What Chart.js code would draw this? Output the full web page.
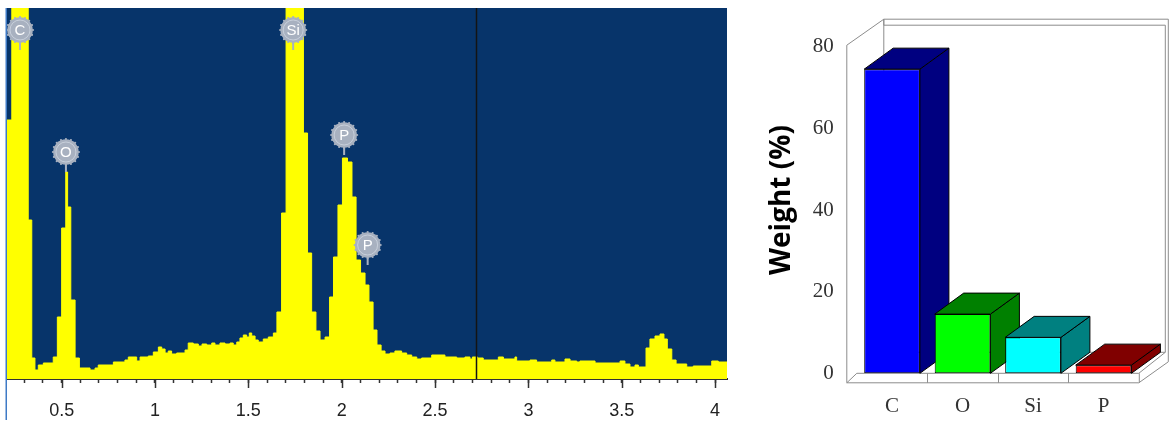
<!DOCTYPE html>
<html>
<head>
<meta charset="utf-8">
<title>EDS spectrum and elemental composition</title>
<script src="https://cdn.jsdelivr.net/npm/chart.js@4.4.1/dist/chart.umd.min.js"></script>
<style>
  html, body { margin: 0; padding: 0; background: #ffffff; }
  #wrap { position: relative; width: 1176px; height: 424px; overflow: hidden; background: #ffffff; }
  #spec { position: absolute; left: 0; top: 0; }
  #comp { position: absolute; left: 740px; top: 0; }
</style>
</head>
<body>
<div id="wrap">
  <canvas id="spec" width="740" height="424"></canvas>
  <canvas id="comp" width="436" height="424"></canvas>
</div>
<script>
// ---------- EDS spectrum (channel start energy in keV, counts per channel) ----------
const energyKeV = [
  0.207, 0.233, 0.321, 0.340, 0.357, 0.375, 0.402, 0.455, 0.477, 0.500,
  0.522, 0.532, 0.549, 0.572, 0.595, 0.652, 0.679, 0.696, 0.777, 0.839,
  0.857, 0.902, 0.920, 0.964, 0.991, 1.018, 1.036, 1.054, 1.071, 1.089,
  1.116, 1.161, 1.178, 1.205, 1.232, 1.252, 1.277, 1.304, 1.321, 1.348,
  1.375, 1.402, 1.419, 1.438, 1.455, 1.473, 1.491, 1.505, 1.518, 1.536,
  1.553, 1.580, 1.607, 1.634, 1.653, 1.678, 1.702, 1.795, 1.817, 1.839,
  1.862, 1.884, 1.911, 1.935, 1.956, 1.980, 2.004, 2.031, 2.055, 2.077,
  2.101, 2.125, 2.146, 2.168, 2.189, 2.211, 2.232, 2.259, 2.285, 2.321,
  2.348, 2.375, 2.402, 2.428, 2.482, 2.553, 2.616, 2.660, 2.687, 2.700,
  2.728, 2.758, 2.839, 2.866, 2.928, 2.937, 3.009, 3.044, 3.125, 3.142,
  3.196, 3.223, 3.259, 3.276, 3.357, 3.491, 3.517, 3.544, 3.571, 3.589,
  3.630, 3.651, 3.678, 3.705, 3.726, 3.744, 3.768, 3.791, 3.848, 3.883,
  3.982, 4.017, 4.064
];
const counts = [
  259, 480, 159, 21, 9, 14, 16, 22, 62, 151,
  207, 172, 79, 21, 11, 9, 11, 14, 17, 19,
  22, 18, 22, 23, 27, 32, 30, 26, 28, 25,
  26, 29, 36, 35, 33, 35, 34, 36, 34, 36,
  35, 36, 34, 37, 41, 44, 42, 46, 43, 39,
  37, 40, 42, 46, 67, 166, 430, 246, 126, 67,
  48, 39, 42, 82, 122, 174, 221, 217, 182, 119,
  106, 94, 77, 49, 34, 28, 25, 26, 28, 26,
  24, 22, 20, 21, 24, 22, 21, 22, 20, 22,
  21, 19, 22, 20, 22, 18, 19, 17, 19, 17,
  20, 18, 17, 18, 16, 18, 15, 12, 14, 12,
  31, 40, 43, 45, 40, 30, 19, 15, 12, 13,
  18, 17, 17
];

// Energy window shown and the axis ticks (every 0.1 keV, labelled every 0.5 keV)
const energyMin = 0.2073;
const energyMax = 4.0637;
const countsMax = 371;
const energyTicks = [
  0.3, 0.4, 0.5, 0.6, 0.7, 0.8, 0.9, 1.0, 1.1, 1.2, 1.3, 1.4, 1.5, 1.6, 1.7, 1.8, 1.9,
  2.0, 2.1, 2.2, 2.3, 2.4, 2.5, 2.6, 2.7, 2.8, 2.9, 3.0, 3.1, 3.2, 3.3, 3.4, 3.5, 3.6,
  3.7, 3.8, 3.9, 4.0
];
const energyTickLabels = { 0.5: '0.5', 1: '1', 1.5: '1.5', 2: '2', 2.5: '2.5', 3: '3', 3.5: '3.5', 4: '4' };

// Element line markers: symbol, line energy (keV), marker level (counts)
const peakSymbols = ['C', 'O', 'Si', 'P', 'P'];
const peakEnergies = [0.277, 0.523, 1.740, 2.013, 2.139];
const peakTagLevels = [349, 227, 349, 244, 134];

// Cursor position (keV)
const cursorEnergy = 2.723;

// ---------- Composition (wt %) ----------
const elements = ['C', 'O', 'Si', 'P'];
const weightPct = [74.5, 14.5, 8.8, 2.0];
const weightTicks = [0, 20, 40, 60, 80];

// ---------- styles ----------
const NAVY = '#07346a';
const YELLOW = '#ffff00';
const TAG_FILL = '#a8b1c0';
const frontColors = ['#0000ff', '#00ff00', '#00ffff', '#ff0000'];
const depthColors = ['#000080', '#008000', '#008080', '#800000'];

function isMajor(v) {
  return Math.abs(v * 2 - Math.round(v * 2)) < 1e-6;
}

// Rounded "gear" badge with the element symbol and a short pin underneath
function drawTag(ctx, x, y, text) {
  ctx.save();
  ctx.fillStyle = TAG_FILL;
  ctx.beginPath();
  ctx.arc(x, y, 12.8, 0, Math.PI * 2);
  ctx.fill();
  for (let k = 0; k < 16; k++) {
    const a = k * Math.PI / 8;
    ctx.beginPath();
    ctx.arc(x + 13 * Math.cos(a), y + 13 * Math.sin(a), 1.1, 0, Math.PI * 2);
    ctx.fill();
  }
  ctx.fillRect(x - 1, y + 12, 2, 8);
  ctx.strokeStyle = 'rgba(220,226,235,0.6)';
  ctx.lineWidth = 1;
  ctx.beginPath();
  ctx.arc(x, y, 10, 0, Math.PI * 2);
  ctx.stroke();
  ctx.fillStyle = '#ffffff';
  ctx.font = '15px "Liberation Sans", Arial, sans-serif';
  ctx.textAlign = 'center';
  ctx.textBaseline = 'middle';
  ctx.fillText(text, x, y + 1);
  ctx.restore();
}

const spectrumDecor = {
  id: 'spectrumDecor',
  beforeDraw(chart) {
    const { ctx, chartArea: a } = chart;
    ctx.save();
    ctx.fillStyle = NAVY;
    ctx.fillRect(a.left, a.top, a.right - a.left, a.bottom - a.top);
    ctx.restore();
  },
  afterDatasetsDraw(chart) {
    const { ctx, chartArea: a, scales: { x, y } } = chart;
    // cursor line
    const cx = Math.round(x.getPixelForValue(cursorEnergy)) - 0.5;
    ctx.save();
    ctx.strokeStyle = '#141414';
    ctx.lineWidth = 1.5;
    ctx.beginPath();
    ctx.moveTo(cx, a.top);
    ctx.lineTo(cx, a.bottom);
    ctx.stroke();
    ctx.restore();
    // element markers
    peakSymbols.forEach((s, i) => {
      drawTag(ctx, x.getPixelForValue(peakEnergies[i]), y.getPixelForValue(peakTagLevels[i]), s);
    });
  },
  afterDraw(chart) {
    const { ctx, chartArea: a, scales: { x } } = chart;
    ctx.save();
    // longer marks for the labelled ticks
    ctx.strokeStyle = '#333333';
    ctx.lineWidth = 1.5;
    energyTicks.filter(isMajor).forEach(v => {
      const px = Math.round(x.getPixelForValue(v)) + 0.5;
      ctx.beginPath();
      ctx.moveTo(px, a.bottom);
      ctx.lineTo(px, a.bottom + 9);
      ctx.stroke();
    });
    // frame edge on the left
    ctx.strokeStyle = '#3f7ac6';
    ctx.lineWidth = 1.5;
    ctx.beginPath();
    ctx.moveTo(a.left - 0.75, a.top);
    ctx.lineTo(a.left - 0.75, 420);
    ctx.stroke();
    ctx.restore();
  }
};

new Chart(document.getElementById('spec'), {
  type: 'line',
  data: {
    datasets: [{
      data: energyKeV.map((e, i) => ({ x: e, y: counts[i] })),
      stepped: true,
      fill: 'origin',
      backgroundColor: YELLOW,
      borderColor: YELLOW,
      borderWidth: 1,
      pointRadius: 0,
      tension: 0,
      clip: 0
    }]
  },
  options: {
    responsive: false,
    animation: false,
    events: [],
    layout: { padding: { left: 7, right: 13, top: 8, bottom: 0 } },
    plugins: { legend: { display: false }, tooltip: { enabled: false } },
    scales: {
      x: {
        type: 'linear',
        min: energyMin,
        max: energyMax,
        afterFit(scale) { scale.height = 45; },
        afterBuildTicks(scale) { scale.ticks = energyTicks.map(v => ({ value: v })); },
        ticks: {
          autoSkip: false,
          maxRotation: 0,
          padding: 17,
          color: '#222222',
          font: { family: '"Liberation Sans", Arial, sans-serif', size: 18 },
          callback(v) {
            const key = Math.round(v * 10) / 10;
            return isMajor(v) ? energyTickLabels[key] : '';
          }
        },
        grid: { display: true, drawOnChartArea: false, drawTicks: true, tickLength: 4, tickColor: '#333333', tickWidth: 1.5 },
        border: { display: true, color: '#333333', width: 2 }
      },
      y: { display: false, min: 0, max: countsMax }
    }
  },
  plugins: [spectrumDecor]
});

// ---------- 3D column chart ----------
const DEPTH_X = 29;
const DEPTH_Y = -21;

const columns3d = {
  id: 'columns3d',
  beforeDatasetsDraw(chart) {
    const { ctx, chartArea: a } = chart;
    const L = a.left, R = a.right, T = a.top, B = a.bottom;
    const band = (R - L) / elements.length;
    ctx.save();
    ctx.strokeStyle = '#8c8c8c';
    ctx.lineWidth = 1;
    const line = pts => {
      ctx.beginPath();
      ctx.moveTo(pts[0][0], pts[0][1]);
      for (let k = 1; k < pts.length; k++) ctx.lineTo(pts[k][0], pts[k][1]);
      ctx.stroke();
    };
    const wallL = L - 10, slabB = B + 9.5;
    const backL = wallL + 37, backTopOuter = T - 27.5, backTopInner = T - 21.5;
    const backR = R + DEPTH_X, backB = B + DEPTH_Y;
    // outer silhouette of walls and floor
    line([[wallL, slabB], [wallL, T - 1.5], [backL, backTopOuter], [backR + 0.5, backTopOuter],
          [backR + 0.5, slabB + DEPTH_Y], [R, slabB], [wallL, slabB]]);
    // back wall inner face
    line([[backL, backB], [backL, backTopOuter], [backL, backTopInner], [backR - 2.5, backTopInner], [backR - 2.5, backB]]);
    // floor top
    line([[wallL, slabB], [L, B], [R, B], [backR - 2.5, backB]]);
    line([[backL, backB], [backR - 2.5, backB]]);
    line([[R + 0.5, B], [R + 0.5, slabB]]);
    // category dividers on the floor edge
    for (let k = 1; k < elements.length; k++) {
      const px = Math.round(L + k * band) + 0.5;
      line([[px, B], [px, slabB]]);
    }
    ctx.restore();

    // tops and sides of the columns
    const meta = chart.getDatasetMeta(0);
    ctx.save();
    ctx.strokeStyle = '#000000';
    ctx.lineWidth = 1;
    meta.data.forEach((bar, i) => {
      const p = bar.getProps(['x', 'y', 'base', 'width'], true);
      const l = p.x - p.width / 2, r = p.x + p.width / 2;
      ctx.fillStyle = depthColors[i];
      ctx.beginPath();
      ctx.moveTo(r, p.y);
      ctx.lineTo(r + DEPTH_X, p.y + DEPTH_Y);
      ctx.lineTo(r + DEPTH_X, p.base + DEPTH_Y);
      ctx.lineTo(r, p.base);
      ctx.closePath();
      ctx.fill();
      ctx.stroke();
      ctx.beginPath();
      ctx.moveTo(l, p.y);
      ctx.lineTo(l + DEPTH_X, p.y + DEPTH_Y);
      ctx.lineTo(r + DEPTH_X, p.y + DEPTH_Y);
      ctx.lineTo(r, p.y);
      ctx.closePath();
      ctx.fill();
      ctx.stroke();
    });
    ctx.restore();
  },
  afterDraw(chart) {
    const { ctx } = chart;
    ctx.save();
    ctx.translate(41.7, 200);
    ctx.rotate(-Math.PI / 2);
    ctx.fillStyle = '#000000';
    ctx.font = 'bold 28px "Open Sans", "Liberation Sans", sans-serif';
    ctx.textAlign = 'center';
    ctx.textBaseline = 'middle';
    ctx.fillText('Weight (%)', 0, 0);
    ctx.restore();
  }
};

new Chart(document.getElementById('comp'), {
  type: 'bar',
  data: {
    labels: elements,
    datasets: [{
      data: weightPct,
      backgroundColor: frontColors,
      borderColor: '#000000',
      borderWidth: 1,
      borderSkipped: false,
      barPercentage: 0.79,
      categoryPercentage: 1.0
    }]
  },
  options: {
    responsive: false,
    animation: false,
    events: [],
    layout: { padding: { left: 0, right: 37.2, top: 46.7, bottom: 0 } },
    plugins: { legend: { display: false }, tooltip: { enabled: false } },
    scales: {
      x: {
        afterFit(scale) { scale.height = 50.7; },
        grid: { display: false, drawTicks: false },
        border: { display: false },
        ticks: {
          padding: 21,
          color: '#333333',
          font: { family: '"Liberation Serif", "DejaVu Serif", serif', size: 21 }
        }
      },
      y: {
        min: 0,
        max: 80,
        afterFit(scale) { scale.width = 116.8; },
        afterBuildTicks(scale) { scale.ticks = weightTicks.map(v => ({ value: v })); },
        grid: { display: false, drawTicks: false },
        border: { display: false },
        ticks: {
          padding: 23,
          color: '#333333',
          font: { family: '"Liberation Serif", "DejaVu Serif", serif', size: 21 }
        }
      }
    }
  },
  plugins: [columns3d]
});
</script>
</body>
</html>
